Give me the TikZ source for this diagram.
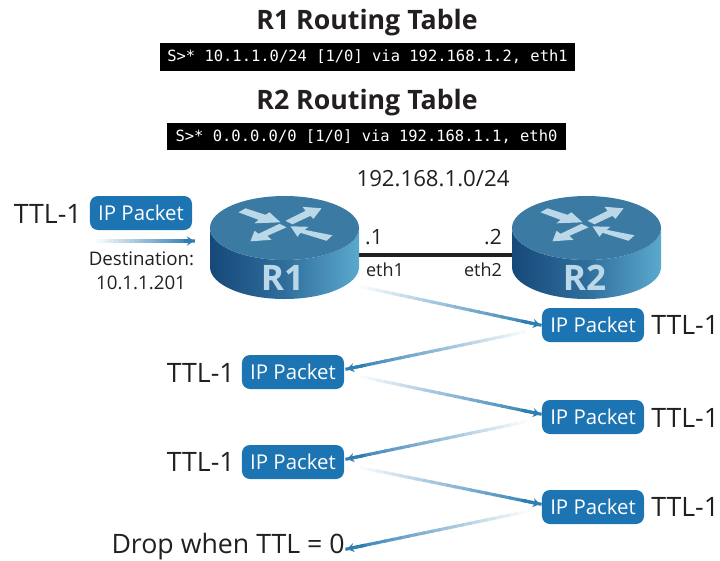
\documentclass[tikz,border=0pt]{standalone}
\usepackage{fontspec}
\setmainfont{Open Sans}
\newfontfamily\termfont{DejaVu Sans Mono}
\usetikzlibrary{calc,arrows.meta}
\definecolor{pktblue}{HTML}{1C75B2}
\definecolor{linkblue}{HTML}{2E7DB3}
\definecolor{topblue}{HTML}{3A7AA3}
\definecolor{bodydark}{HTML}{16497A}
\definecolor{bodymid}{HTML}{2F6E9C}
\definecolor{bodylight}{HTML}{5BA9CE}
\definecolor{iconblue}{HTML}{BBD8E8}
\definecolor{inkgray}{HTML}{231F20}
\tikzset{
	packet/.style={fill=pktblue,rounded corners=2mm,minimum width=2.55cm,minimum height=0.85cm,inner sep=0pt,text=white,font=\fontsize{14.5}{16}\selectfont},
	ttl/.style={text=inkgray,inner sep=0pt,font=\fontsize{19}{21}\selectfont},
	small/.style={text=inkgray,inner sep=0pt,font=\fontsize{13.3}{15}\selectfont},
	dotaddr/.style={text=inkgray,inner sep=0pt,font=\fontsize{15}{17}\selectfont},
	title/.style={text=inkgray,inner sep=0pt,font=\fontsize{19}{21}\selectfont\bfseries},
	term/.style={fill=black,text=white,inner sep=0pt,font=\fontsize{11}{13}\termfont},
	rname/.style={text=iconblue,inner sep=0pt,font=\fontsize{25}{27}\selectfont\bfseries},
}
% one router at x=#1, with top face centred on y=228
\newcommand{\routerdisc}[2]{
	\begin{scope}[shift={(#1,0)}]
		\shade[left color=bodydark,right color=bodylight,middle color=bodymid] (-74.5,228) -- (-74.5,267) arc (180:0:74.5 and 32) -- (74.5,228) arc (0:180:74.5 and 32) -- cycle;%body
		\fill[topblue] (0,228) ellipse (74.5 and 32);%top face
		\begin{scope}[shift={(0,224.3)},fill=iconblue]
			\fill (-46,-12) -- (-39,-16) -- (-19,-9.5) -- (-15,-12) -- (-4,-2) -- (-30,-1) -- (-26,-4.5) -- cycle;
			\fill (37,-16) -- (18,-17.5) -- (21,-13.5) -- (1,-3.5) -- (8,0) -- (26,-8.5) -- (29,-5.5) -- cycle;
			\fill (-34,17) -- (-30,6.5) -- (-26,9.5) -- (-5,-0.5) -- (2,3) -- (-17,11.5) -- (-13,15.5) -- cycle;
			\fill (6,2) -- (24,2.5) -- (20,5.5) -- (48,11) -- (42,16.5) -- (16,8.5) -- (13,12.5) -- cycle;
		\end{scope}
		\node[rname] (#2) at (-2,278) {#2};
	\end{scope}
}
% link that fades in from white
\newcommand{\fadelink}[2]{
	\foreach \i [evaluate=\i as \pct using int(\i*100/23),evaluate=\i as \nxt using \i+1.2] in {0,...,23}
		\draw[line width=2.2pt,color=linkblue!\pct] ($(#1)!\i/24!(#2)$) -- ($(#1)!\nxt/24!(#2)$);
	\draw[line width=2.2pt,color=linkblue,-{Stealth[length=5pt,width=6.5pt]}] ($(#1)!0.9!(#2)$) -- (#2);
}
\begin{document}
\begin{tikzpicture}[x=0.025cm,y=-0.025cm]
	\useasboundingbox (0,0) rectangle (720,560);

	\node[title] (titleA) at (367,23) {R1 Routing Table};
	\node[term,minimum width=10.375cm,minimum height=0.7cm] (termA) at (367.5,57) {S>* 10.1.1.0/24 [1/0] via 192.168.1.2, eth1};
	\node[title] (titleB) at (367,102.5) {R2 Routing Table};
	\node[term,minimum width=9.975cm,minimum height=0.675cm] (termB) at (366.5,136.5) {S>* 0.0.0.0/0 [1/0] via 192.168.1.1, eth0};
	\node[dotaddr,font=\fontsize{15.8}{18}\selectfont] (subnet) at (433,179) {192.168.1.0/24};

	\coordinate (portA) at (359,255);
	\coordinate (portB) at (512,255);
	\draw[line width=2.8pt,color=inkgray] (portA) -- (portB);%link between the routers

	\routerdisc{284.5}{R1}
	\routerdisc{586.5}{R2}

	\node[dotaddr] (addrA) at (374,237) {.1};
	\node[dotaddr] (addrB) at (493,237) {.2};
	\node[small,font=\fontsize{12.8}{15}\selectfont] (ethA) at (385,270) {eth1};
	\node[small,font=\fontsize{12.8}{15}\selectfont] (ethB) at (483,270) {eth2};

	\node[packet] (pktIn) at (141,213) {IP Packet};
	\node[ttl,anchor=east] (ttlIn) at (82,214) {TTL-1};
	\node[small] (dest) at (141.5,259) {Destination:};
	\node[small] (destAddr) at (141,283) {10.1.1.201};

	\node[packet] (pktA) at (593,325) {IP Packet};
	\node[ttl,anchor=west] (ttlA) at (651,325) {TTL-1};
	\node[packet] (pktB) at (293,372) {IP Packet};
	\node[ttl,anchor=east] (ttlB) at (235,373) {TTL-1};
	\node[packet] (pktC) at (593,417) {IP Packet};
	\node[ttl,anchor=west] (ttlC) at (651,418) {TTL-1};
	\node[packet] (pktD) at (293,462) {IP Packet};
	\node[ttl,anchor=east] (ttlD) at (235,462) {TTL-1};
	\node[packet] (pktE) at (593,507) {IP Packet};
	\node[ttl,anchor=west] (ttlE) at (651,507) {TTL-1};
	\node[ttl,anchor=east] (drop) at (345,546.5) {Drop when TTL = 0};

	\coordinate (inS) at (92,241);
	\coordinate (inE) at (194,241);
	\coordinate (hopAs) at (353,285);
	\coordinate (hopAe) at (540,325);
	\coordinate (hopBs) at (534,330);
	\coordinate (hopBe) at (347,369);
	\coordinate (hopCs) at (353,375);
	\coordinate (hopCe) at (540,414);
	\coordinate (hopDs) at (534,420);
	\coordinate (hopDe) at (347,459);
	\coordinate (hopEs) at (353,466);
	\coordinate (hopEe) at (540,504);
	\coordinate (hopFs) at (534,510);
	\coordinate (hopFe) at (347,549);

	\fadelink{inS}{inE}
	\fadelink{hopAs}{hopAe}
	\fadelink{hopBs}{hopBe}
	\fadelink{hopCs}{hopCe}
	\fadelink{hopDs}{hopDe}
	\fadelink{hopEs}{hopEe}
	\fadelink{hopFs}{hopFe}
\end{tikzpicture}
\end{document}
